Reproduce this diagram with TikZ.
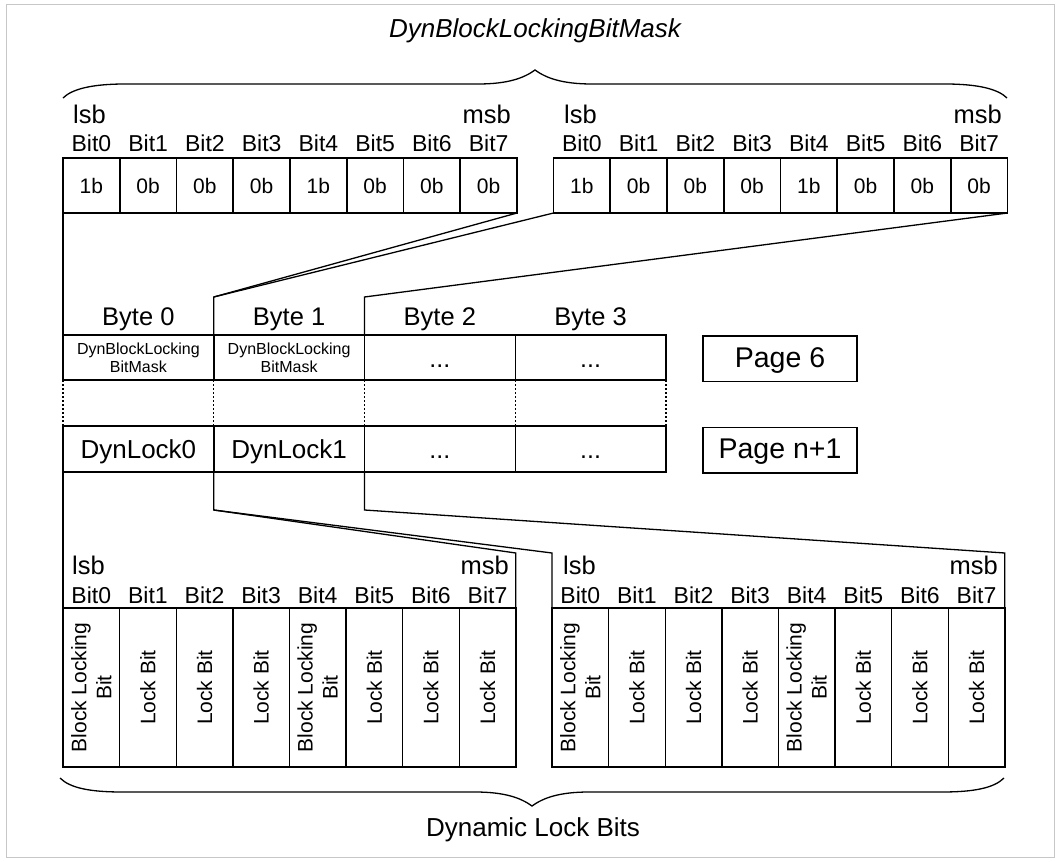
\documentclass[tikz,border=0pt]{standalone}
\usepackage{fontspec}
\setmainfont{Liberation Sans}
\begin{document}
\begin{tikzpicture}[x=1pt,y=-1pt,
  frame/.style={draw=black!22, line width=1pt},
  maskcell/.style={draw, line width=1.7pt, minimum width=56.75pt, minimum height=55pt, inner sep=0pt, outer sep=0pt, font=\fontsize{21}{24}\selectfont},
  lockcell/.style={draw, line width=1.4pt, minimum width=56.6pt, minimum height=159pt, inner sep=0pt, outer sep=0pt},
  rottext/.style={rotate=90, align=center, inner sep=0pt, font=\fontsize{21}{25}\selectfont},
  bitlabel/.style={anchor=base, inner sep=0pt, font=\fontsize{23}{26}\selectfont},
  endlabel/.style={inner sep=0pt, font=\fontsize{25.5}{28}\selectfont},
  bytecell/.style={draw, line width=1.5pt, minimum width=150.75pt, minimum height=#1, inner sep=0pt, outer sep=0pt},
  pagebox/.style={draw, line width=1.5pt, minimum width=154pt, minimum height=45.5pt, inner sep=0pt, outer sep=0pt},
  link/.style={line width=1.3pt},
  dotlink/.style={line width=1.1pt, dash pattern=on 2pt off 2pt},
  brace/.style={line width=1.3pt},
  txt/.style={anchor=base, inner sep=0pt},
]
\useasboundingbox (0,0) rectangle (1061,862);
\draw[frame] (6.5,4.5) rectangle (1054.5,857.5);

% top title and brace
\node[txt, font=\itshape\fontsize{26}{30}\selectfont] (title) at (535,37) {DynBlockLockingBitMask};
\draw[brace] (63,98) .. controls (72,89) and (92,84) .. (125,84) -- (478,84) .. controls (508,84) and (524,78) .. (535,70) .. controls (546,78) and (562,84) .. (592,84) -- (945,84) .. controls (978,84) and (998,89) .. (1007,98);

% top bit tables
\foreach \v [count=\i from 0] in {1b,0b,0b,0b,1b,0b,0b,0b} {
  \node[maskcell] (tl\i) at ({63+56.75*(\i+0.5)},185.5) {\v};
  \node[maskcell] (tr\i) at ({553.5+56.75*(\i+0.5)},185.5) {\v};
  \node[bitlabel] (tlb\i) at ({63+56.75*(\i+0.5)},151) {Bit\i};
  \node[bitlabel] (trb\i) at ({553.5+56.75*(\i+0.5)},151) {Bit\i};
}
\node[endlabel, anchor=base west] (tllsb) at (73,123) {lsb};
\node[endlabel, anchor=base east] (tlmsb) at (511,123) {msb};
\node[endlabel, anchor=base west] (trlsb) at (564,123) {lsb};
\node[endlabel, anchor=base east] (trmsb) at (1002,123) {msb};

% middle rows
\foreach \j in {0,...,3} {
  \node[bytecell=45pt] (r1c\j) at ({63+150.75*(\j+0.5)},357.5) {};
  \node[bytecell=46pt] (r2c\j) at ({63+150.75*(\j+0.5)},449) {};
  \node[txt, font=\fontsize{25.5}{28}\selectfont] (byte\j) at ({63+150.75*(\j+0.5)},325) {Byte \j};
  \draw[dotlink] (r1c\j.south west) -- (r2c\j.north west);
}
\draw[dotlink] (r1c3.south east) -- (r2c3.north east);
\node[txt, font=\fontsize{16}{18}\selectfont] (m0a) at (138.4,354) {DynBlockLocking};
\node[txt, font=\fontsize{16}{18}\selectfont] (m0b) at (138.4,372) {BitMask};
\node[txt, font=\fontsize{16}{18}\selectfont] (m1a) at (289.1,354) {DynBlockLocking};
\node[txt, font=\fontsize{16}{18}\selectfont] (m1b) at (289.1,372) {BitMask};
\node[txt, font=\fontsize{25}{28}\selectfont] (m2) at (439.9,367) {...};
\node[txt, font=\fontsize{25}{28}\selectfont] (m3) at (590.6,367) {...};
\node[txt, font=\fontsize{26}{30}\selectfont] (d0) at (138.4,458) {DynLock0};
\node[txt, font=\fontsize{26}{30}\selectfont] (d1) at (289.1,458) {DynLock1};
\node[txt, font=\fontsize{25}{28}\selectfont] (d2) at (439.9,458) {...};
\node[txt, font=\fontsize{25}{28}\selectfont] (d3) at (590.6,458) {...};

\node[pagebox] (pg6) at (780,358.5) {};
\node[txt, font=\fontsize{28.5}{32}\selectfont] (pg6t) at (780,367) {Page 6};
\node[pagebox] (pgn) at (780,450) {};
\node[txt, font=\fontsize{28.5}{32}\selectfont] (pgnt) at (780,458) {Page n+1};

% top connectors
\coordinate (k1) at (213.75,297);
\coordinate (k2) at (364.5,297);
\draw[link] (tl0.south west) -- (r1c0.north west);
\draw[link] (tl7.south east) -- (k1) -- (r1c1.north west);
\draw[link] (tr0.south west) -- (k1);
\draw[link] (tr7.south east) -- (k2) -- (r1c2.north west);

% lower tables
\foreach \i in {0,...,7} {
  \node[lockcell] (bl\i) at ({63+56.6*(\i+0.5)},687.5) {};
  \node[lockcell] (br\i) at ({552+56.6*(\i+0.5)},687.5) {};
  \node[bitlabel] (blb\i) at ({63+56.6*(\i+0.5)},603) {Bit\i};
  \node[bitlabel] (brb\i) at ({552+56.6*(\i+0.5)},603) {Bit\i};
}
\foreach \i in {1,2,3,5,6,7} {
  \node[rottext] (blt\i) at (bl\i.center) {Lock Bit};
  \node[rottext] (brt\i) at (br\i.center) {Lock Bit};
}
\foreach \i in {0,4} {
  \node[rottext] (blt\i) at (bl\i.center) {Block Locking\\Bit};
  \node[rottext] (brt\i) at (br\i.center) {Block Locking\\Bit};
}
\node[endlabel, anchor=base west] (bllsb) at (72,574) {lsb};
\node[endlabel, anchor=base east] (blmsb) at (509,574) {msb};
\node[endlabel, anchor=base west] (brlsb) at (563,574) {lsb};
\node[endlabel, anchor=base east] (brmsb) at (998,574) {msb};

% lower connectors
\coordinate (k3) at (213.75,510);
\coordinate (k4) at (364.5,510);
\coordinate (bltr) at (515.8,553);
\coordinate (brtl) at (552,553);
\coordinate (brtr) at (1004.8,553);
\draw[link] (r2c0.south west) -- (bl0.north west);
\draw[link] (r2c1.south west) -- (k3) -- (bltr) -- (bl7.north east);
\draw[link] (k3) -- (brtl) -- (br0.north west);
\draw[link] (r2c2.south west) -- (k4) -- (brtr) -- (br7.north east);

% bottom brace
\draw[brace] (60,778) .. controls (70,788) and (90,792) .. (122,792) -- (475,792) .. controls (505,792) and (521,798) .. (532,806) .. controls (543,798) and (559,792) .. (589,792) -- (942,792) .. controls (974,792) and (994,788) .. (1004,778);
\node[txt, font=\fontsize{26}{30}\selectfont] (dlb) at (533,836) {Dynamic Lock Bits};
\end{tikzpicture}
\end{document}
